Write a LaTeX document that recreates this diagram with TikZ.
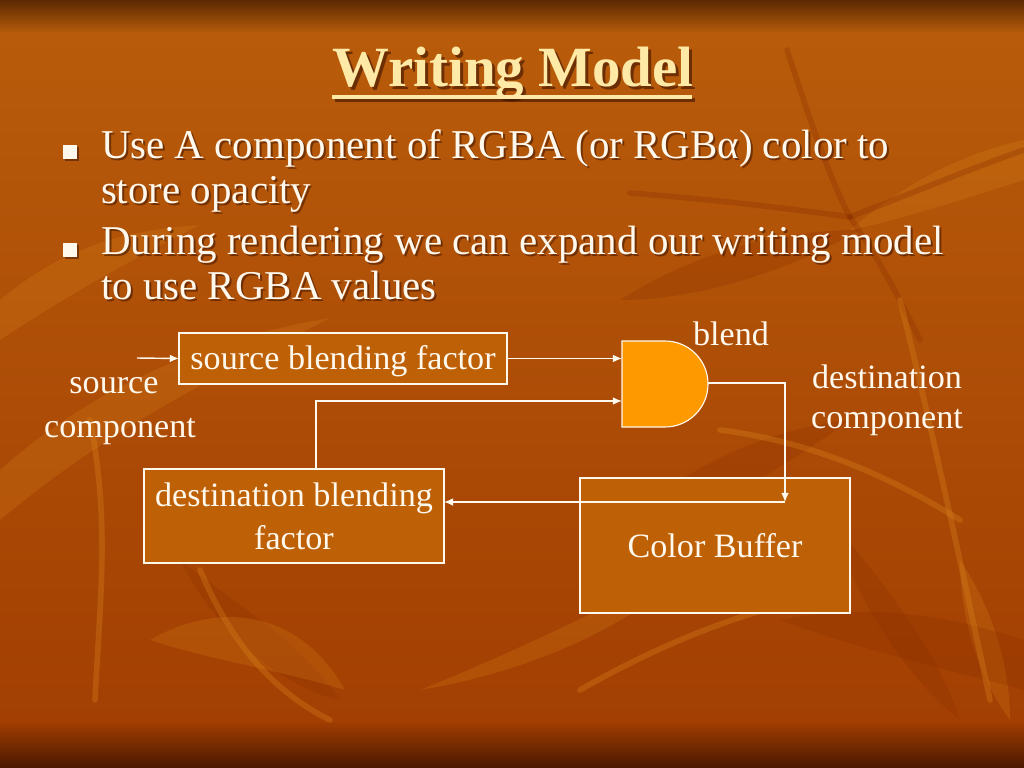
\documentclass[tikz,border=0pt]{standalone}
\usepackage{fontspec}
\setmainfont{Liberation Serif}
\usetikzlibrary{arrows.meta,calc}
\definecolor{bgtop}{HTML}{B95D0B}
\definecolor{bgbot}{HTML}{A13D02}
\definecolor{bandtop}{HTML}{5C2A02}
\definecolor{bandbot}{HTML}{4A1800}
\definecolor{boxfill}{HTML}{BE6006}
\definecolor{gatefill}{HTML}{FF9900}
\definecolor{ink}{HTML}{FFF8EC}
\definecolor{titleink}{HTML}{FFE9A6}
\definecolor{shadowc}{HTML}{3A1200}
\definecolor{leaflight}{HTML}{E08A1E}
\definecolor{leafdark}{HTML}{8A2E00}
\begin{document}
\begin{tikzpicture}[x=0.703125pt,y=-0.703125pt,
  every node/.style={inner sep=0pt, outer sep=0pt},
  box/.style={draw=ink, line width=1.1pt, fill=boxfill, text=ink,
    font=\fontsize{24}{30.2}\selectfont, align=center},
  lbl/.style={text=ink, font=\fontsize{24}{28}\selectfont, anchor=base},
  btxt/.style={text=ink, font=\fontsize{28.8}{33}\selectfont, anchor=base west},
  bshadow/.style={text=shadowc, opacity=0.55, font=\fontsize{28.8}{33}\selectfont, anchor=base west},
  bulletbox/.style={fill=ink, minimum size=9.5pt},
  bulletshadow/.style={fill=shadowc, opacity=0.5, minimum size=9.5pt},
  conn/.style={draw=ink, line width=1pt, -{Latex[length=6.5pt,width=5.5pt]}},
  leafL/.style={fill=leaflight, opacity=0.22},
  leafD/.style={fill=leafdark, opacity=0.25},
  stemL/.style={draw=leaflight, opacity=0.3, line width=4pt, line cap=round},
  stemD/.style={draw=leafdark, opacity=0.3, line width=4pt, line cap=round},
]
% ---------- background ----------
\useasboundingbox (0,0) rectangle (1024,768);
\shade[top color=bgtop, bottom color=bgbot] (0,0) rectangle (1024,768);
\shade[top color=bandtop, bottom color=bgtop] (0,0) rectangle (1024,34);
\shade[top color=bgbot, bottom color=bandbot] (0,722) rectangle (1024,768);
% faint leaves and stems
\fill[leafL] (0,470) .. controls (90,390) and (200,340) .. (330,318)
  .. controls (230,370) and (120,420) .. (0,520) -- cycle;
\fill[leafL] (0,300) .. controls (60,250) and (120,230) .. (200,225)
  .. controls (130,260) and (60,300) .. (0,340) -- cycle;
\fill[leafD] (180,560) .. controls (230,600) and (300,640) .. (340,700)
  .. controls (290,690) and (220,640) .. (180,560) -- cycle;
\fill[leafL] (150,640) .. controls (220,600) and (300,610) .. (345,690)
  .. controls (280,670) and (210,660) .. (150,640) -- cycle;
\fill[leafD] (600,540) .. controls (680,470) and (760,430) .. (850,420)
  .. controls (780,470) and (700,520) .. (600,540) -- cycle;
\fill[leafL] (420,690) .. controls (520,650) and (620,600) .. (700,560)
  .. controls (640,620) and (540,670) .. (420,690) -- cycle;
\fill[leafD] (830,520) .. controls (900,600) and (940,660) .. (960,720)
  .. controls (910,680) and (860,610) .. (830,520) -- cycle;
\fill[leafL] (960,560) .. controls (1000,620) and (1010,680) .. (1010,720)
  .. controls (980,680) and (960,620) .. (960,560) -- cycle;
\fill[leafD] (780,620) .. controls (880,600) and (960,620) .. (1024,640)
  -- (1024,690) .. controls (950,670) and (860,650) .. (780,620) -- cycle;
\fill[leafD] (620,300) .. controls (700,250) and (780,230) .. (860,230)
  .. controls (790,270) and (700,300) .. (620,300) -- cycle;
\fill[leafL] (850,230) .. controls (920,170) and (980,150) .. (1024,140)
  -- (1024,180) .. controls (960,200) and (900,220) .. (850,230) -- cycle;
\draw[stemD] (630,193) .. controls (720,200) and (800,210) .. (850,217);
\draw[stemD] (787,50) .. controls (810,120) and (830,180) .. (850,217);
\draw[stemD] (850,217) .. controls (880,260) and (900,300) .. (920,340);
\draw[stemD] (850,217) .. controls (920,190) and (980,165) .. (1024,150);
\draw[stemL] (720,430) .. controls (800,440) and (880,470) .. (960,520);
\draw[stemL] (900,300) .. controls (930,420) and (960,560) .. (990,700);
\draw[stemL] (580,690) .. controls (650,650) and (720,620) .. (800,600);
\draw[stemL] (90,420) .. controls (110,520) and (100,600) .. (95,700);
\draw[stemL] (200,570) .. controls (230,640) and (270,690) .. (330,720);
% ---------- title ----------
\node[font=\fontsize{40}{48}\selectfont\bfseries, text=shadowc, opacity=0.6, anchor=base]
  (titleshadow) at (516,90) {Writing Model};
\node[font=\fontsize{40}{48}\selectfont\bfseries, text=titleink, anchor=base]
  (title) at (513,87) {Writing Model};
\fill[shadowc, opacity=0.6] (335,98.5) rectangle (695,102.5);
\fill[titleink] (332,95.5) rectangle (692,99.5);
% ---------- bullets ----------
\node[bulletshadow] (b1s) at (72,154) {};
\node[bulletbox] (b1) at (70,152) {};
\node[bulletshadow] (b2s) at (72,252) {};
\node[bulletbox] (b2) at (70,250) {};
\node[bshadow] (t1s) at (103,161) {Use A component of RGBA (or RGBα) color to};
\node[btxt] (t1) at (101,159) {Use A component of RGBA (or RGBα) color to};
\node[bshadow] (t2s) at (103,206) {store opacity};
\node[btxt] (t2) at (101,204) {store opacity};
\node[bshadow] (t3s) at (103,257) {During rendering we can expand our writing model};
\node[btxt] (t3) at (101,255) {During rendering we can expand our writing model};
\node[bshadow] (t4s) at (103,302) {to use RGBA values};
\node[btxt] (t4) at (101,300) {to use RGBA values};
% ---------- diagram ----------
\node[box, minimum width=230.6pt, minimum height=35.9pt, text height=20pt, text depth=5pt]
  (sbf) at (343,358.5) {source blending factor};
\node[box, minimum width=210.9pt, minimum height=66.1pt]
  (dbf) at (294,516) {destination blending\\factor};
\node[box, minimum width=189.8pt, minimum height=94.9pt]
  (cb) at (715,545.5) {Color Buffer};
% blend gate
\filldraw[fill=gatefill, draw=ink, line width=0.8pt]
  (622,341) -- (665,341) arc[start angle=-90, end angle=90, radius=43] -- (622,427) -- cycle;
\coordinate (gin1) at (622,358);
\coordinate (gin2) at (622,401);
\coordinate (gout) at (708,383);
\coordinate (srcin) at (137,358);
\coordinate (cbin) at (785,502);
% connectors
\draw[conn] (srcin) -- (sbf.west);
\draw[conn] (sbf.east) -- (sbf.east -| gin1);
\draw[conn] (gout) -| (cbin);
\draw[conn] (cbin) -- (cbin -| dbf.east);
\draw[conn] ($(dbf.north)+(22,0)$) |- (gin2);
% labels
\node[lbl] (blend) at (731,345) {blend};
\node[lbl] (dc1) at (887,388) {destination};
\node[lbl] (dc2) at (887,428) {component};
\node[lbl] (sc1) at (114,393) {source};
\node[lbl] (sc2) at (120,437) {component};
\end{tikzpicture}
\end{document}
